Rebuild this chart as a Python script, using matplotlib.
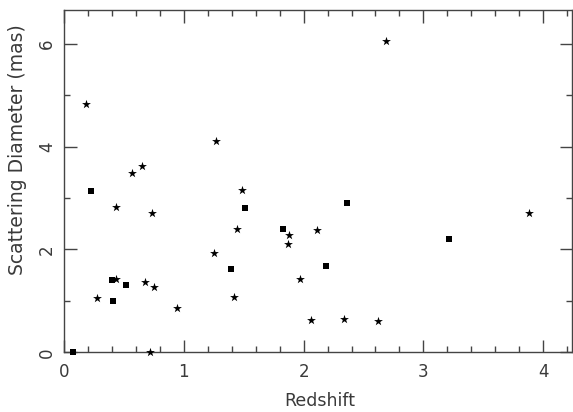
import matplotlib
matplotlib.use("Agg")
import matplotlib.pyplot as plt
from matplotlib.ticker import MultipleLocator

# squares
sq_z = [0.07, 0.226, 0.40, 0.41, 0.518, 1.395, 1.51, 1.83, 2.19, 2.36, 3.21]
sq_d = [0.0, 3.13, 1.41, 0.99, 1.30, 1.61, 2.80, 2.39, 1.67, 2.90, 2.20]

# stars
st_z = [0.18, 0.27, 0.43, 0.43, 0.566, 0.65, 0.674, 0.73, 0.713, 0.75, 0.94,
        1.25, 1.27, 1.42, 1.445, 1.485, 1.88, 1.87, 1.97, 2.06, 2.11, 2.34,
        2.62, 2.69, 3.885]
st_d = [4.82, 1.06, 1.43, 2.83, 3.49, 3.62, 1.36, 2.70, 0.0, 1.26, 0.86,
        1.94, 4.10, 1.08, 2.40, 3.15, 2.29, 2.11, 1.43, 0.62, 2.37, 0.65,
        0.61, 6.06, 2.70]

fig = plt.figure(figsize=(5.73, 4.12), dpi=100)
ax = fig.add_axes([0.112, 0.145, 0.886, 0.831])

ax.scatter(st_z, st_d, marker="*", s=45, color="black", linewidths=0, clip_on=False, zorder=3)
ax.scatter(sq_z, sq_d, marker="s", s=14, color="black", linewidths=0, clip_on=False, zorder=3)

ax.set_xlim(0, 4.24)
ax.set_ylim(0, 6.66)
ax.xaxis.set_major_locator(MultipleLocator(1))
ax.xaxis.set_minor_locator(MultipleLocator(0.2))
ax.yaxis.set_major_locator(MultipleLocator(2))
ax.yaxis.set_minor_locator(MultipleLocator(1))

txt = "#3a3a3a"
for s in ax.spines.values():
    s.set_color("#444444")
    s.set_linewidth(1.0)
ax.tick_params(which="both", direction="in", top=True, right=True,
               color="#444444", labelcolor=txt, labelsize=12, width=1.0)
ax.tick_params(which="major", length=9)
ax.tick_params(which="minor", length=4.5)
ax.tick_params(axis="x", which="major", pad=8)
ax.tick_params(axis="y", which="major", pad=6)
for lab in ax.get_yticklabels():
    lab.set_rotation(90)
    lab.set_va("center")

fig.text(320 / 573, 1 - 401 / 412, "Redshift", fontsize=12.5, color=txt,
         ha="center", va="center")
fig.text(18 / 573, 1 - 150 / 412, "Scattering Diameter (mas)", fontsize=13.5,
         color=txt, ha="center", va="center", rotation=90)

fig.savefig("out.png", dpi=100)
